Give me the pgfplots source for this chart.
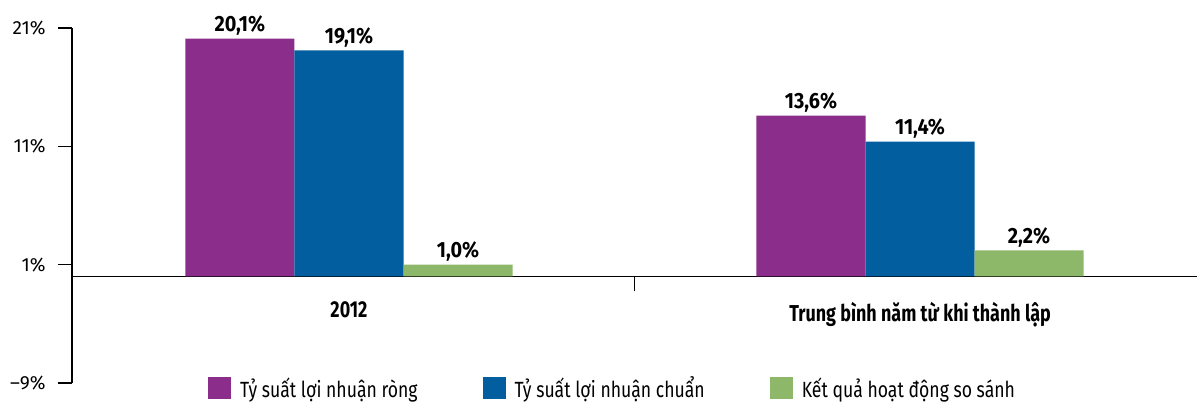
\documentclass[border=0pt]{standalone}
\usepackage{pgfplots}
\pgfplotsset{compat=1.18}
\usepackage{fontspec}
\setmainfont{Fira Sans}[FakeStretch=0.8]
\newfontfamily\tickfont{Fira Sans}[FakeStretch=1.0]
\newfontfamily\barfont{Fira Sans}[FakeStretch=0.9]
\newfontfamily\catfont{Fira Sans}[FakeStretch=0.78]
\definecolor{cPur}{RGB}{139,45,139}
\definecolor{cBlu}{RGB}{2,94,158}
\definecolor{cGrn}{RGB}{141,184,106}
\begin{document}
\begin{tikzpicture}
\begin{axis}[
  scale only axis, width=1125pt, height=355pt,
  xmin=-0.485, xmax=1.485, ymin=-9, ymax=21,
  axis x line*=middle, axis y line*=left,
  axis line style={line width=1.6pt, black},
  clip=false,
  /pgf/number format/assume math mode=true,
  ybar, bar width=0.191,
  tick align=outside, major tick length=14pt,
  ytick={-9,1,11,21}, yticklabels={–9\%,1\%,11\%,21\%},
  yticklabel style={font=\tickfont\fontsize{19}{19}\selectfont, xshift=-9pt},
  ytick style={line width=1.6pt, black},
  xtick={0,1}, xticklabels={2012, Trung bình năm từ khi thành lập},
  xticklabel style={font=\catfont\bfseries\fontsize{23}{23}\selectfont, yshift=-8pt},
  major x tick style={draw=none},
  extra x ticks={0.5}, extra x tick labels={},
  extra x tick style={major x tick style={draw=black, line width=1.6pt}, major tick length=15pt},
  nodes near coords={\pgfmathprintnumber[fixed,fixed zerofill,precision=1,use comma]{\pgfplotspointmeta}\%},
  every node near coord/.append style={font=\barfont\bfseries\fontsize{22}{22}\selectfont, black, inner sep=3pt},
  legend columns=3,
  legend style={at={(0.1209,-0.014)}, anchor=west, draw=none, fill=none, inner sep=0pt,
    font=\fontsize{22}{22}\selectfont,
    /tikz/every even column/.append style={column sep=63pt},
    /tikz/every odd column/.append style={column sep=7pt}},
  legend image code/.code={\fill[#1] (0pt,-11pt) rectangle (23pt,11pt);},
]
\addplot[fill=cPur, draw=none, bar shift=-0.191] coordinates {(0,20.1) (1,13.6)};
\addplot[fill=cBlu, draw=none, bar shift=0] coordinates {(0,19.1) (1,11.4)};
\addplot[fill=cGrn, draw=none, bar shift=0.191] coordinates {(0,1.0) (1,2.2)};
\legend{Tỷ suất lợi nhuận ròng, Tỷ suất lợi nhuận chuẩn, Kết quả hoạt động so sánh}
\coordinate (bl) at (rel axis cs:0,0);
\coordinate (tr) at (rel axis cs:1,1);
\end{axis}
\pgfresetboundingbox
\path ([xshift=-72pt,yshift=-19pt]bl) rectangle ([yshift=28pt]tr);
\end{tikzpicture}
\end{document}
